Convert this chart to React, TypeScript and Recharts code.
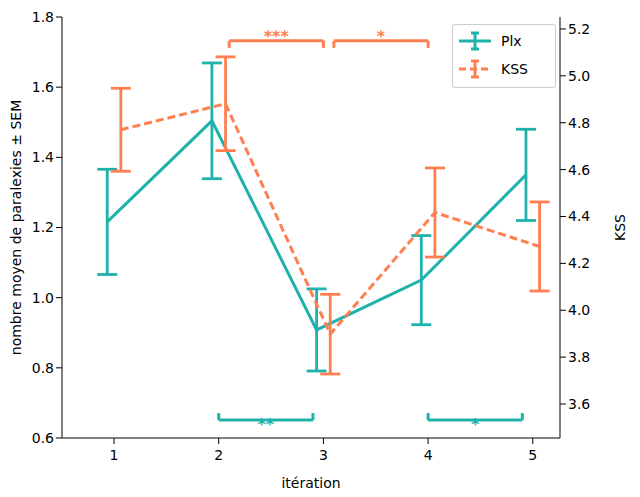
import React from "react";
import { ComposedChart, Line, XAxis, YAxis, ErrorBar, ReferenceLine, ReferenceDot } from "recharts";

const iterations = [1, 2, 3, 4, 5];
const plxMean = [1.216, 1.504, 0.908, 1.05, 1.35];
const plxSem = [0.15, 0.165, 0.117, 0.127, 0.13];
const kssMean = [4.77, 4.881, 3.898, 4.417, 4.272];
const kssSem = [0.177, 0.2, 0.17, 0.19, 0.19];
const leftTicks = [0.6, 0.8, 1.0, 1.2, 1.4, 1.6, 1.8];
const rightTicks = [3.6, 3.8, 4.0, 4.2, 4.4, 4.6, 4.8, 5.0, 5.2];

// significance brackets: [x1, x2, label]
const topBrackets: [number, number, string][] = [[2.1, 3.0, "***"], [3.1, 4.0, "*"]];
const bottomBrackets: [number, number, string][] = [[2.0, 2.9, "**"], [4.0, 4.9, "*"]];

const TEAL = "#20b2aa";
const CORAL = "#ff7f50";
const OFF = 0.065;

const plxData = iterations.map((x, i) => ({ x: x - OFF, y: plxMean[i], err: plxSem[i] }));
const kssData = iterations.map((x, i) => ({ x: x + OFF, y: kssMean[i], err: kssSem[i] }));

const font = "DejaVu Sans, sans-serif";

const LegendBox = () => (
  <div style={{ position: "absolute", left: 452, top: 24, width: 102, height: 62, background: "#fff", border: "1px solid #ccc", borderRadius: 3, fontFamily: font, fontSize: 14 }}>
    <svg width={102} height={62} style={{ position: "absolute", left: 0, top: 0 }}>
      <line x1={6} y1={16} x2={38} y2={16} stroke={TEAL} strokeWidth={3} />
      <line x1={22} y1={8} x2={22} y2={24} stroke={TEAL} strokeWidth={3} />
      <line x1={18} y1={8} x2={26} y2={8} stroke={TEAL} strokeWidth={3} />
      <line x1={18} y1={24} x2={26} y2={24} stroke={TEAL} strokeWidth={3} />
      <text x={48} y={21} fontSize={14} fill="#000">Plx</text>
      <line x1={6} y1={44} x2={38} y2={44} stroke={CORAL} strokeWidth={3} strokeDasharray="7 4" />
      <line x1={22} y1={36} x2={22} y2={52} stroke={CORAL} strokeWidth={3} />
      <line x1={18} y1={36} x2={26} y2={36} stroke={CORAL} strokeWidth={3} />
      <line x1={18} y1={52} x2={26} y2={52} stroke={CORAL} strokeWidth={3} />
      <text x={48} y={49} fontSize={14} fill="#000">KSS</text>
    </svg>
  </div>
);

export default function App() {
  const tick = { fontSize: 14, fill: "#000", fontFamily: font };
  return (
    <div style={{ position: "absolute", left: 0, top: 0, width: 640, height: 497, background: "#fff" }}>
      <ComposedChart width={640} height={497} margin={{ top: 17, right: 0, bottom: 0, left: 0 }}>
        <XAxis dataKey="x" type="number" domain={[0.503, 5.26]} ticks={iterations} allowDataOverflow
          tick={{ ...tick, dy: 4 }} stroke="#000" tickLine={{ stroke: "#000" }} height={59}
          label={{ value: "itération", position: "insideBottom", offset: 9, fontSize: 14, fill: "#000", fontFamily: font }} />
        <XAxis xAxisId="top" dataKey="x" type="number" domain={[0.503, 5.26]} orientation="top" tick={false} tickLine={false} stroke="#000" height={0} />
        <YAxis yAxisId="left" domain={[0.6, 1.8]} ticks={leftTicks} allowDataOverflow width={62}
          tickFormatter={(v: number) => v.toFixed(1)} tick={tick} stroke="#000"
          label={{ value: "nombre moyen de paralexies ± SEM", angle: -90, position: "insideLeft", offset: 16, style: { textAnchor: "middle" }, fontSize: 14, fill: "#000", fontFamily: font }} />
        <YAxis yAxisId="right" orientation="right" domain={[3.455, 5.251]} ticks={rightTicks} allowDataOverflow width={80}
          tickFormatter={(v: number) => v.toFixed(1)} tick={tick} stroke="#000"
          label={{ value: "KSS", angle: -90, position: "insideRight", offset: 20, style: { textAnchor: "middle" }, fontSize: 14, fill: "#000", fontFamily: font }} />
        <Line yAxisId="left" data={plxData} dataKey="y" stroke={TEAL} strokeWidth={3} dot={false} isAnimationActive={false}>
          <ErrorBar dataKey="err" direction="y" width={10} stroke={TEAL} strokeWidth={2.8} />
        </Line>
        <Line yAxisId="right" data={kssData} dataKey="y" stroke={CORAL} strokeWidth={3} strokeDasharray="8 4" dot={false} isAnimationActive={false}>
          <ErrorBar dataKey="err" direction="y" width={10} stroke={CORAL} strokeWidth={2.8} />
        </Line>
        {topBrackets.map(([a, b, t]) => [
          <ReferenceLine key={t + a + "h"} yAxisId="left" segment={[{ x: a, y: 1.732 }, { x: b, y: 1.732 }]} stroke={CORAL} strokeWidth={3} />,
          <ReferenceLine key={t + a + "l"} yAxisId="left" segment={[{ x: a, y: 1.732 }, { x: a, y: 1.712 }]} stroke={CORAL} strokeWidth={3} />,
          <ReferenceLine key={t + a + "r"} yAxisId="left" segment={[{ x: b, y: 1.732 }, { x: b, y: 1.712 }]} stroke={CORAL} strokeWidth={3} />,
          <ReferenceDot key={t + a + "t"} yAxisId="left" x={(a + b) / 2} y={1.732} r={0} fill="none" stroke="none"
            label={{ value: t, position: "top", offset: -1, fill: CORAL, fontSize: 16, fontWeight: "bold", fontFamily: font }} />,
        ])}
        {bottomBrackets.map(([a, b, t]) => [
          <ReferenceLine key={t + a + "h"} yAxisId="left" segment={[{ x: a, y: 0.651 }, { x: b, y: 0.651 }]} stroke={TEAL} strokeWidth={3} />,
          <ReferenceLine key={t + a + "l"} yAxisId="left" segment={[{ x: a, y: 0.651 }, { x: a, y: 0.671 }]} stroke={TEAL} strokeWidth={3} />,
          <ReferenceLine key={t + a + "r"} yAxisId="left" segment={[{ x: b, y: 0.651 }, { x: b, y: 0.671 }]} stroke={TEAL} strokeWidth={3} />,
          <ReferenceDot key={t + a + "t"} yAxisId="left" x={(a + b) / 2} y={0.651} r={0} fill="none" stroke="none"
            label={{ value: t, position: "bottom", offset: -1, fill: TEAL, fontSize: 16, fontWeight: "bold", fontFamily: font }} />,
        ])}
      </ComposedChart>
      <LegendBox />
    </div>
  );
}
